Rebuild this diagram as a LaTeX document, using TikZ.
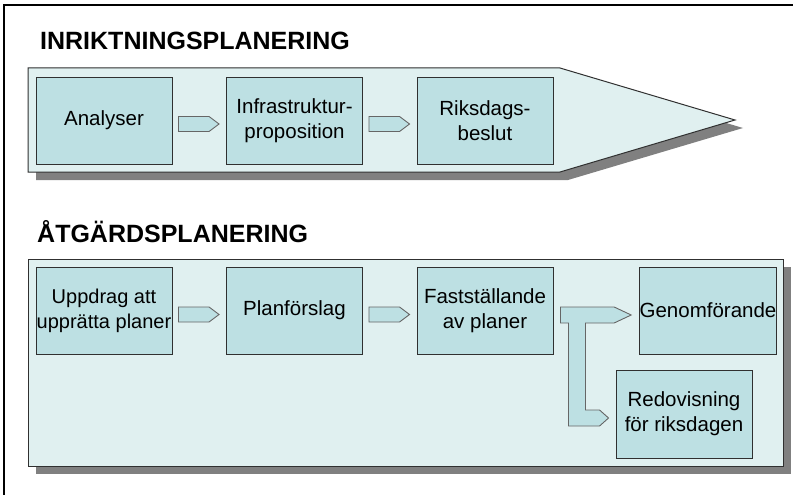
\documentclass[tikz,border=0pt]{standalone}
\usepackage{fontspec}
\setmainfont{Liberation Sans}
\usetikzlibrary{calc}
\definecolor{bandfill}{HTML}{E0F0F0}
\definecolor{boxfill}{HTML}{BDE0E3}
\definecolor{shadowc}{HTML}{808080}
\definecolor{edgec}{HTML}{303030}
\tikzset{
  box/.style={draw=edgec, line width=0.9pt, fill=boxfill, minimum width=136pt, minimum height=87pt, inner sep=0pt, align=center, font=\fontsize{20.5}{25}\selectfont},
  band/.style={draw=edgec, line width=1pt, fill=bandfill},
  shadowfill/.style={fill=shadowc, draw=none},
  barrow/.style={draw=black!60, line width=0.9pt, fill=boxfill, line join=miter},
  heading/.style={anchor=base west, inner sep=0pt, font=\fontsize{25}{29}\selectfont\bfseries},
}
\begin{document}
\begin{tikzpicture}[x=1pt,y=-1pt]
\useasboundingbox (0,0) rectangle (796,495);
% frame
\draw[line width=1.3pt] (4,495) -- (4,5) -- (793,5);
% headings
\node[heading] (h1) at (40,50) {INRIKTNINGSPLANERING};
\node[heading] (h2) at (37,242) {ÅTGÄRDSPLANERING};
% upper band
\fill[shadowfill] (36,76) -- (568,76) -- (743,128) -- (568,180) -- (36,180) -- cycle;
\draw[band] (28,68) -- (560,68) -- (735,120) -- (560,172) -- (28,172) -- cycle;
% lower band
\fill[shadowfill] (36,267) rectangle (791,474);
\draw[band] (28,259) rectangle (783,466);
% upper boxes
\node[box] (a) at (104,120.5) {Analyser};
\node[box] (b) at (294.5,120.5) {Infrastruktur-\\proposition};
\node[box] (c) at (485,120.5) {Riksdags-\\beslut};
% lower boxes
\node[box, font=\fontsize{20}{25}\selectfont] (d) at (104,310.5) {Uppdrag att\\upprätta planer};
\node[box] (e) at (294.5,310.5) {Planförslag};
\node[box] (f) at (485,310.5) {Fastställande\\av planer};
\node[box] (g) at (708,310.5) {Genomförande};
\node[box, minimum height=88pt] (r) at (684,414) {Redovisning\\för riksdagen};
% arrows
\foreach \p/\q/\dy in {a/b/3.5, b/c/3.5, d/e/4, e/f/4}{
  \draw[barrow] ($(\p.east)+(6,\dy-7.5)$) -- ($(\q.west)+(-17,\dy-7.5)$) -- ($(\q.west)+(-7,\dy)$) -- ($(\q.west)+(-17,\dy+7.5)$) -- ($(\p.east)+(6,\dy+7.5)$) -- cycle;
}
% fork arrow
\coordinate (k1) at ($(f.east)+(7,-3.5)$);
\coordinate (k2) at ($(g.west)+(-25,-3.5)$);
\coordinate (k3) at ($(g.west)+(-8,4.5)$);
\coordinate (k4) at ($(g.west)+(-25,12.5)$);
\coordinate (s1) at ($(f.east)+(15,12.5)$);
\coordinate (s2) at ($(f.east)+(32,12.5)$);
\coordinate (k5) at ($(r.west)+(-16,-4)$);
\coordinate (k6) at ($(r.west)+(-7,4)$);
\coordinate (k7) at ($(r.west)+(-16,12)$);
\draw[barrow] (k1) -- (k2) -- (k3) -- (k4) -- (s2) -- (s2 |- k5) -- (k5) -- (k6) -- (k7) -- (s1 |- k7) -- (s1) -- (k1 |- s1) -- cycle;
\end{tikzpicture}
\end{document}
